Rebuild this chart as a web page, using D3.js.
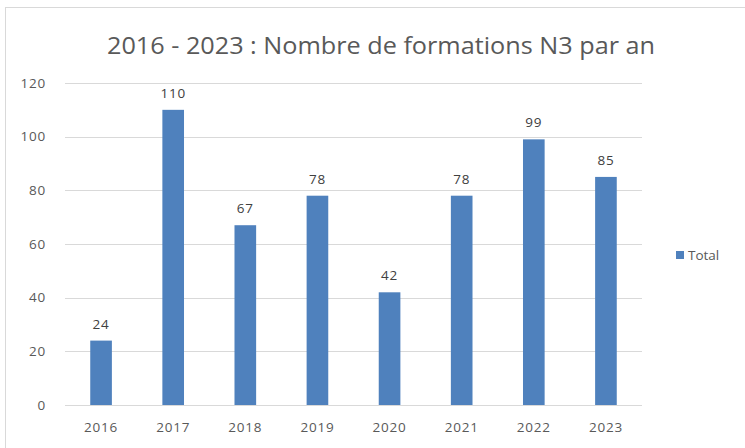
<!DOCTYPE html>
<html lang="fr">
<head>
  <meta charset="UTF-8" />
  <title>Formations N3</title>
  <style>
    html, body {
      margin: 0;
      background: #fff;
      font-family: "Open Sans", "Liberation Sans", sans-serif;
    }
    svg { display: block; }
    .grid line { stroke: #d9d9d9; stroke-width: 1; }
    .axis text { fill: #595959; font-size: 13.5px; letter-spacing: 0.8px; }
    .bar { fill: #4f81bd; }
    .label { fill: #404040; font-size: 13.5px; letter-spacing: 0.8px; text-anchor: middle; }
  </style>
  <script src="https://d3js.org/d3.v7.min.js"></script>
</head>
<body>
  <svg id="chart" width="745" height="448"></svg>
  <script>
    // data
    const years = ["2016", "2017", "2018", "2019", "2020", "2021", "2022", "2023"];
    const totals = [24, 110, 67, 78, 42, 78, 99, 85];
    const yTicks = [0, 20, 40, 60, 80, 100, 120];
    const title = "2016 - 2023 : Nombre de formations N3 par an";
    const seriesName = "Total";

    const width = 745, height = 448;
    const margin = { top: 83, right: 103, bottom: 43, left: 65 };

    const svg = d3.select("#chart");

    // outer frame
    svg.append("rect")
      .attr("x", 5.5).attr("y", 7.5)
      .attr("width", width + 10).attr("height", height + 10)
      .attr("fill", "#fff").attr("stroke", "#d9d9d9");

    const x = d3.scaleBand()
      .domain(years)
      .range([margin.left, width - margin.right])
      .paddingInner(0.7)
      .paddingOuter(0.35);

    const y = d3.scaleLinear()
      .domain([0, 120])
      .range([height - margin.bottom, margin.top]);

    svg.append("text")
      .attr("x", 381).attr("y", 54)
      .attr("text-anchor", "middle")
      .attr("fill", "#595959")
      .style("font-size", "24px")
      .style("font-family", "'Open Sans', sans-serif")
      .attr("textLength", 548)
      .attr("lengthAdjust", "spacingAndGlyphs")
      .text(title);

    // gridlines
    svg.append("g").attr("class", "grid")
      .selectAll("line").data(yTicks).join("line")
      .attr("x1", margin.left).attr("x2", width - margin.right)
      .attr("y1", d => Math.round(y(d)) + 0.5).attr("y2", d => Math.round(y(d)) + 0.5);

    // y axis labels
    const yAxis = svg.append("g").attr("class", "axis")
      .attr("transform", `translate(${margin.left - 19},0)`)
      .call(d3.axisLeft(y).tickValues(yTicks).tickSize(0).tickPadding(0));
    yAxis.select(".domain").remove();

    // x axis labels
    const xAxis = svg.append("g").attr("class", "axis")
      .attr("transform", `translate(0,${height - margin.bottom + 17})`)
      .call(d3.axisBottom(x).tickSize(0).tickPadding(0));
    xAxis.select(".domain").remove();

    svg.selectAll(".axis text").style("font-family", "'Open Sans', sans-serif");

    // bars
    svg.append("g")
      .selectAll("rect").data(years).join("rect")
      .attr("class", "bar")
      .attr("x", (d) => x(d))
      .attr("width", x.bandwidth())
      .attr("y", (d, i) => y(totals[i]))
      .attr("height", (d, i) => y(0) - y(totals[i]));

    // value labels
    svg.append("g")
      .selectAll("text").data(years).join("text")
      .attr("class", "label")
      .attr("x", d => x(d) + x.bandwidth() / 2)
      .attr("y", (d, i) => y(totals[i]) - 12)
      .text((d, i) => totals[i]);

    // legend
    const legend = svg.append("g").attr("transform", "translate(676,251)");
    legend.append("rect")
      .attr("width", 8).attr("height", 8)
      .attr("fill", "#4f81bd");
    legend.append("text")
      .attr("x", 12).attr("y", 9)
      .attr("fill", "#595959")
      .style("font-size", "13.5px")
      .text(seriesName);
  </script>
</body>
</html>
